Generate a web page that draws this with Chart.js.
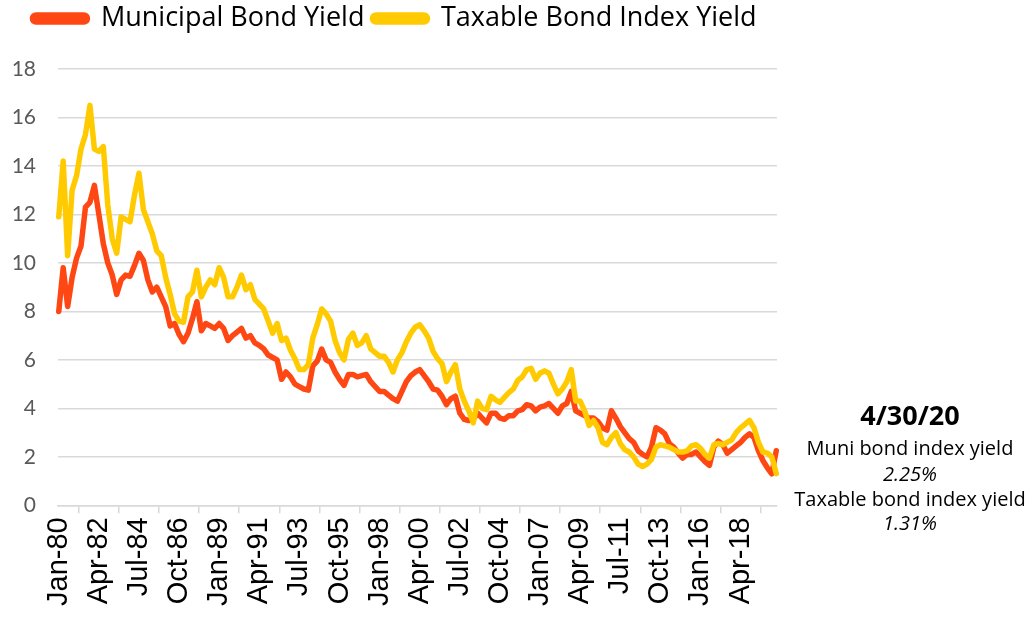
<!DOCTYPE html>
<html>
<head>
<meta charset="utf-8">
<script src="https://cdn.jsdelivr.net/npm/chart.js@4.4.1/dist/chart.umd.min.js"></script>
<style>
  html, body { margin: 0; padding: 0; background: #fff; }
</style>
</head>
<body>
<canvas id="myChart" width="1036" height="621"></canvas>
<script>
// monthly category axis Jan-80 .. Apr-20, values read quarterly (Jan/Apr/Jul/Oct)
const monthNames = ['Jan', 'Feb', 'Mar', 'Apr', 'May', 'Jun', 'Jul', 'Aug', 'Sep', 'Oct', 'Nov', 'Dec'];
const firstYear = 1980;
const monthCount = 484;
const labelEvery = 27;   // Jan-80, Apr-82, Jul-84 ...
const pointEvery = 3;

const months = [];
for (let i = 0; i < monthCount; i++) {
    const yy = (firstYear + Math.floor(i / 12)) % 100;
    months.push(monthNames[i % 12] + '-' + String(yy).padStart(2, '0'));
}

const muniYield = [
    8.0, 9.8, 8.2, 9.4,      // 1980
    10.2, 10.7, 12.3, 12.5,
    13.2, 12.0, 10.8, 10.0,
    9.5, 8.7, 9.3, 9.5,
    9.45, 9.9, 10.4, 10.1,
    9.3, 8.8, 9.0, 8.6,
    8.2, 7.4, 7.5, 7.05,
    6.75, 7.1, 7.7, 8.4,
    7.2, 7.5, 7.4, 7.3,
    7.5, 7.3, 6.8, 7.0,
    7.15, 7.3, 6.9, 7.0,     // 1990
    6.7, 6.6, 6.45, 6.2,
    6.1, 6.0, 5.2, 5.5,
    5.3, 5.0, 4.9, 4.8,
    4.75, 5.75, 5.95, 6.45,
    6.0, 5.9, 5.5, 5.2,
    4.95, 5.4, 5.4, 5.3,
    5.35, 5.4, 5.1, 4.9,
    4.7, 4.7, 4.55, 4.4,
    4.3, 4.7, 5.1, 5.35,
    5.5, 5.6, 5.35, 5.1,     // 2000
    4.8, 4.75, 4.5, 4.15,
    4.4, 4.5, 3.8, 3.55,
    3.5, 3.55, 3.8, 3.6,
    3.4, 3.8, 3.8, 3.6,
    3.55, 3.7, 3.7, 3.9,
    3.95, 4.15, 4.1, 3.9,
    4.05, 4.1, 4.2, 4.0,
    3.8, 4.1, 4.2, 4.7,
    3.9, 3.8, 3.7, 3.6,
    3.6, 3.45, 3.2, 3.1,     // 2010
    3.9, 3.6, 3.25, 3.0,
    2.75, 2.6, 2.25, 2.1,
    2.0, 2.4, 3.2, 3.1,
    2.95, 2.55, 2.4, 2.15,
    1.95, 2.1, 2.1, 2.2,
    2.0, 1.8, 1.65, 2.4,
    2.65, 2.5, 2.15, 2.3,
    2.45, 2.6, 2.8, 2.95,
    2.8, 2.25, 1.85, 1.55,
    1.3, 2.25                // 2020
];

const taxableYield = [
    11.9, 14.2, 10.3, 13.0,  // 1980
    13.6, 14.7, 15.3, 16.5,
    14.7, 14.6, 14.8, 12.4,
    11.0, 10.4, 11.9, 11.8,
    11.7, 12.8, 13.7, 12.2,
    11.7, 11.2, 10.5, 10.3,
    9.4, 8.7, 7.9, 7.6,
    7.55, 8.6, 8.8, 9.7,
    8.6, 9.0, 9.3, 9.1,
    9.8, 9.4, 8.6, 8.6,
    9.0, 9.5, 8.9, 9.1,      // 1990
    8.5, 8.3, 8.1, 7.6,
    7.1, 7.5, 6.8, 6.9,
    6.4, 6.05, 5.6, 5.6,
    5.8, 6.9, 7.45, 8.1,
    7.9, 7.6, 6.8, 6.3,
    6.0, 6.85, 7.1, 6.6,
    6.7, 7.0, 6.45, 6.3,
    6.15, 6.15, 5.9, 5.5,
    6.0, 6.3, 6.75, 7.1,
    7.35, 7.45, 7.2, 6.9,    // 2000
    6.35, 6.05, 5.85, 5.1,
    5.5, 5.8, 4.8, 4.3,
    3.9, 3.4, 4.3, 4.0,
    3.95, 4.5, 4.35, 4.25,
    4.45, 4.65, 4.8, 5.15,
    5.3, 5.6, 5.65, 5.2,
    5.45, 5.55, 5.45, 5.0,
    4.6, 4.8, 5.1, 5.6,
    4.3, 4.3, 3.9, 3.3,
    3.5, 3.2, 2.6, 2.5,      // 2010
    2.8, 3.0, 2.55, 2.3,
    2.2, 2.0, 1.7, 1.6,
    1.7, 1.9, 2.4, 2.5,
    2.45, 2.4, 2.3, 2.2,
    2.2, 2.25, 2.45, 2.5,
    2.35, 2.1, 1.95, 2.5,
    2.55, 2.5, 2.6, 2.7,
    3.0, 3.2, 3.35, 3.5,
    3.2, 2.6, 2.2, 2.15,
    2.0, 1.31                // 2020
];

const yTicks = { min: 0, max: 18, step: 2 };

const noteLines = [
    { text: '4/30/20', font: 'bold 27px "Open Sans"', y: 425 },
    { text: 'Muni bond index yield', font: '20px "Open Sans"', y: 455 },
    { text: '2.25%', font: 'italic 20px "Open Sans"', y: 481 },
    { text: 'Taxable bond index yield', font: '20px "Open Sans"', y: 506 },
    { text: '1.31%', font: 'italic 20px "Open Sans"', y: 530 }
];

const toPoints = vals => vals.map((v, i) => ({ x: months[i * pointEvery], y: v }));

const endNote = {
    id: 'endNote',
    afterDraw(chart) {
        const ctx = chart.ctx;
        ctx.save();
        ctx.fillStyle = '#000';
        ctx.textAlign = 'center';
        ctx.textBaseline = 'alphabetic';
        noteLines.forEach(l => {
            ctx.font = l.font;
            ctx.fillText(l.text, 910, l.y);
        });
        ctx.restore();
    }
};

// extra space under the legend
const legendGap = {
    id: 'legendGap',
    beforeInit(chart) {
        const fit = chart.legend.fit;
        chart.legend.fit = function () {
            fit.call(this);
            this.height += 27;
        };
    }
};

const ctx = document.getElementById('myChart').getContext('2d');
new Chart(ctx, {
    type: 'line',
    data: {
        labels: months,
        datasets: [{
            label: 'Municipal Bond Yield',
            data: toPoints(muniYield),
            borderColor: '#FF4713',
            backgroundColor: '#FF4713',
            borderWidth: 5.5,
            order: 1
        }, {
            label: 'Taxable Bond Index Yield',
            data: toPoints(taxableYield),
            borderColor: '#FFCB00',
            backgroundColor: '#FFCB00',
            borderWidth: 5.5,
            order: 0
        }]
    },
    options: {
        responsive: false,
        animation: false,
        layout: { padding: { left: 12, right: 259, top: -3, bottom: 11 } },
        elements: {
            point: { radius: 0 },
            line: { tension: 0, borderJoinStyle: 'round', borderCapStyle: 'round' }
        },
        plugins: {
            legend: {
                position: 'top',
                labels: {
                    boxWidth: 55,
                    boxHeight: 7,
                    useBorderRadius: true,
                    borderRadius: 3.5,
                    color: '#000',
                    padding: 8,
                    font: { family: 'Open Sans', size: 27 },
                    sort: (a, b) => a.datasetIndex - b.datasetIndex
                }
            },
            tooltip: { enabled: false }
        },
        scales: {
            x: {
                type: 'category',
                offset: true,
                grid: {
                    offset: true,
                    drawOnChartArea: false,
                    drawTicks: true,
                    tickLength: 8,
                    color: '#d9d9d9',
                    lineWidth: 1.5
                },
                border: { color: '#d9d9d9', width: 1.5 },
                ticks: {
                    autoSkip: false,
                    minRotation: 90,
                    maxRotation: 90,
                    padding: 4,
                    color: '#000',
                    font: { family: 'Liberation Sans', size: 29 },
                    callback: function (value, index) {
                        return index % labelEvery === 0 ? this.getLabelForValue(value) : null;
                    }
                }
            },
            y: {
                min: yTicks.min,
                max: yTicks.max,
                afterFit: scale => { scale.width = 46; },
                grid: { color: '#d9d9d9', lineWidth: 1.5, drawTicks: false },
                border: { display: false },
                ticks: {
                    stepSize: yTicks.step,
                    padding: 22,
                    color: '#595959',
                    font: { family: 'Lato', size: 21 }
                }
            }
        }
    },
    plugins: [endNote, legendGap]
});
</script>
</body>
</html>
